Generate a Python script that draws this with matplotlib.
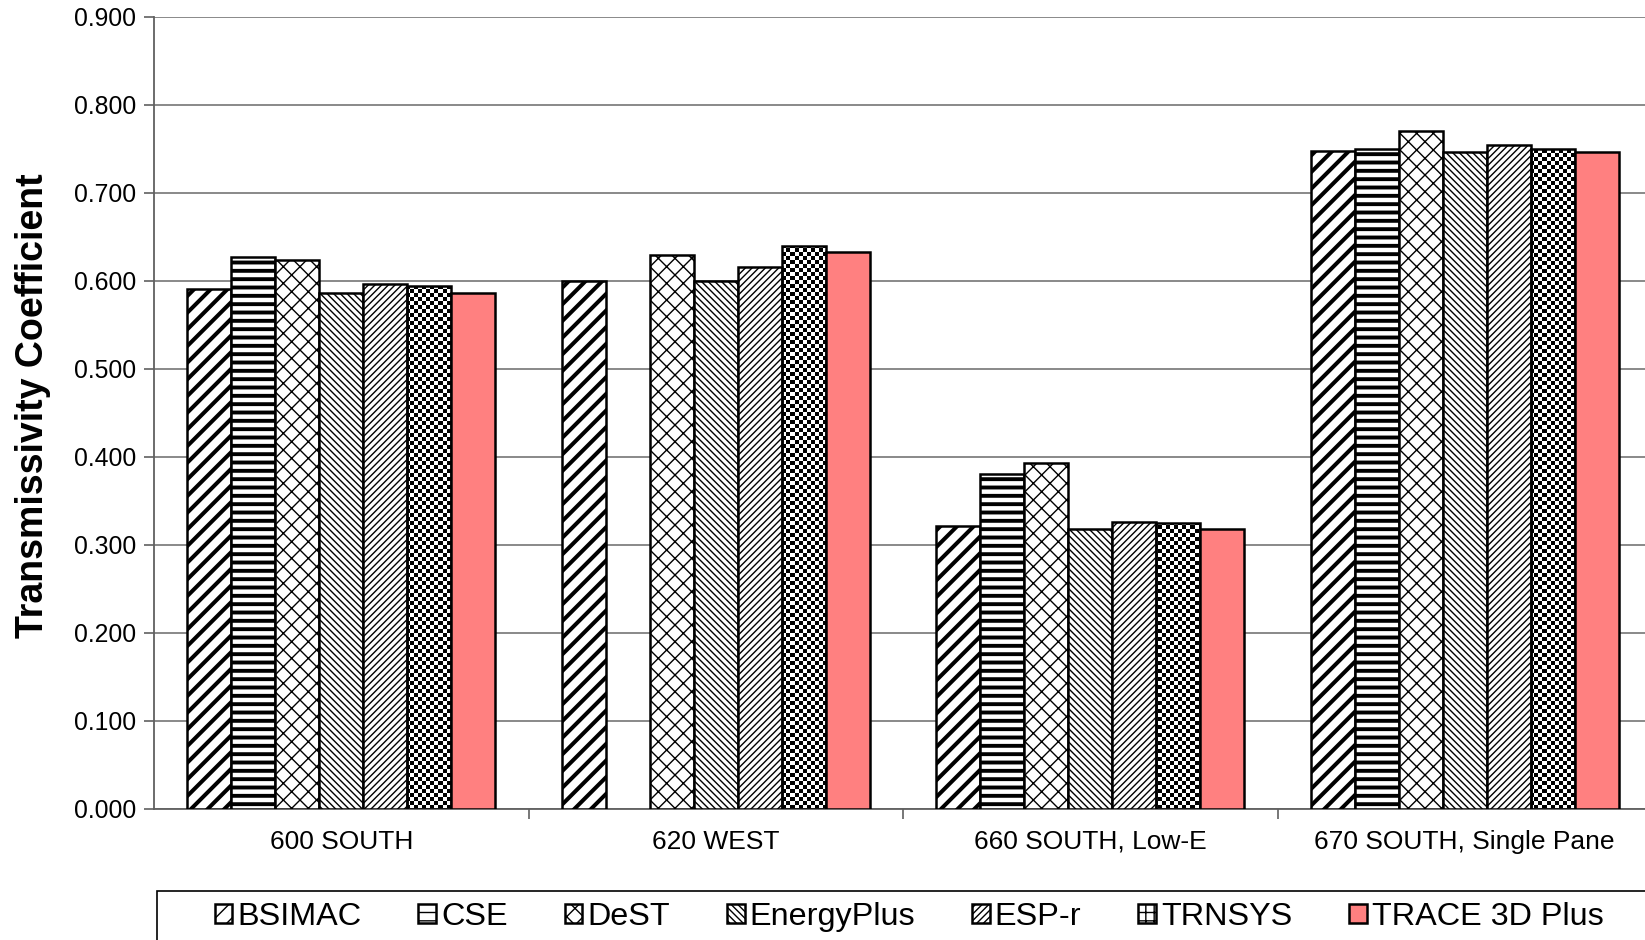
import numpy as np
import matplotlib
matplotlib.use("Agg")
from matplotlib import pyplot as plt
from matplotlib.patches import Rectangle

plt.rcParams["font.family"] = ["Liberation Sans", "DejaVu Sans"]

# data
cases = ["600 SOUTH", "620 WEST", "660 SOUTH, Low-E", "670 SOUTH, Single Pane"]
programs = ["BSIMAC", "CSE", "DeST", "EnergyPlus", "ESP-r", "TRNSYS", "TRACE 3D Plus"]
bsimac = [0.591, 0.600, 0.322, 0.748]
cse = [0.627, np.nan, 0.381, 0.750]
dest = [0.624, 0.629, 0.393, 0.770]
energyplus = [0.586, 0.600, 0.318, 0.747]
esp_r = [0.597, 0.616, 0.326, 0.755]
trnsys = [0.594, 0.640, 0.325, 0.750]
trace = [0.586, 0.633, 0.318, 0.747]
series = [bsimac, cse, dest, energyplus, esp_r, trnsys, trace]

# hatch, hatch linewidth, face colour ("checker" is drawn as an image)
styles = [
    ("//", 2.9, "white"),
    ("--", 2.8, "white"),
    ("xx", 1.0, "white"),
    ("\\" * 5, 1.0, "white"),
    ("/" * 5, 1.0, "white"),
    ("checker", 2.1, "none"),
    ("", 1.0, "#ff8080"),
]

fig = plt.figure(figsize=(16.45, 9.40), dpi=100)
ax_px = (154, 131, 1498, 792)
ax = fig.add_axes([ax_px[0] / 1645, ax_px[1] / 940, ax_px[2] / 1645, ax_px[3] / 940])
xlim = (-0.5, len(cases) - 0.5)
ylim = (0, 0.9)

x = np.arange(len(cases))
bw = 0.1175
n = len(programs)
handles = []
for i, (vals, (h, hlw, fc)) in enumerate(zip(series, styles)):
    pos = x - bw * n / 2 + bw * (i + 0.5)
    hh = "" if h == "checker" else h
    with plt.rc_context({"hatch.linewidth": hlw}):
        bars = ax.bar(pos, vals, bw, color=fc, edgecolor="black", linewidth=1.8,
                      hatch=hh, label=programs[i], zorder=3)
        for b in bars:
            try:
                b.set_hatch_linewidth(hlw)
            except AttributeError:
                pass
    if h == "checker":
        # checkerboard fill, 4 px squares, clipped to each bar
        cell = 4
        rows, cols = ax_px[3] // cell, int(np.ceil(ax_px[2] / cell))
        board = np.indices((rows, cols)).sum(axis=0) % 2
        x1 = xlim[0] + cols * cell * (xlim[1] - xlim[0]) / ax_px[2]
        y1 = ylim[0] + rows * cell * (ylim[1] - ylim[0]) / ax_px[3]
        for b in bars:
            im = ax.imshow(board, cmap="gray_r", origin="lower", aspect="auto",
                           interpolation="nearest", extent=(xlim[0], x1, ylim[0], y1), zorder=2.5)
            im.set_clip_path(b)
        with plt.rc_context({"hatch.linewidth": hlw}):
            proxy = Rectangle((0, 0), 1, 1, facecolor="white", edgecolor="black",
                              linewidth=1.8, hatch="++")
            try:
                proxy.set_hatch_linewidth(hlw)
            except AttributeError:
                pass
        handles.append(proxy)
    else:
        handles.append(bars)

ax.set_xlim(*xlim)
ax.set_ylim(*ylim)
ax.set_yticks(np.arange(0, 0.91, 0.1))
ax.set_yticklabels([f"{v:.3f}" for v in np.arange(0, 0.91, 0.1)], fontsize=17.8)
ax.set_xticks(x)
ax.set_xticklabels(cases, fontsize=19)
ax.set_xticks(np.arange(0.5, len(cases) - 0.5, 1), minor=True)
ax.tick_params(axis="x", which="major", length=0, pad=15)
ax.tick_params(axis="x", which="minor", length=7, width=1.2, color="#606060")
ax.tick_params(axis="y", length=7, width=1.2, color="#606060", pad=6)

ax.grid(axis="y", color="#808080", linewidth=1.3, zorder=0)
for s in ["top", "right"]:
    ax.spines[s].set_visible(False)
for s in ["left", "bottom"]:
    ax.spines[s].set_color("#606060")
    ax.spines[s].set_linewidth(1.3)

ax.set_ylabel("Transmissivity Coefficient", fontsize=27, fontweight="bold", labelpad=16)
ax.yaxis.label.set_y(0.509)

# legend frame runs past the figure edges, as in the reference
fig.patches.append(Rectangle((157 / 1645, -0.05), 1.1, 0.05 + 49 / 940, transform=fig.transFigure,
                             facecolor="none", edgecolor="black", linewidth=1.2))
leg = fig.legend(handles, programs, loc="center", bbox_to_anchor=(909 / 1645, 23 / 940), ncol=7,
                 frameon=False, fontsize=23.3, handlelength=0.55, handleheight=0.55,
                 handletextpad=0.15, columnspacing=1.76, borderaxespad=0)

fig.savefig("out.png", dpi=100)
